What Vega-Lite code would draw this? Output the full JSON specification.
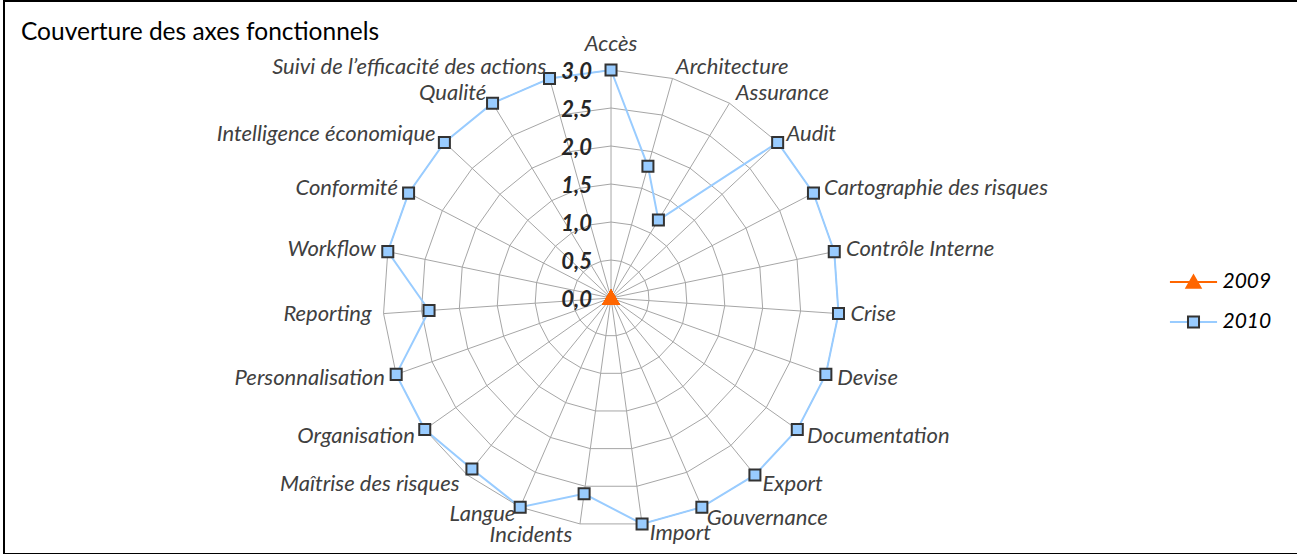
{
  "$schema": "https://vega.github.io/schema/vega-lite/v6.json",
  "width": 1300,
  "height": 553,
  "autosize": {"type": "none"},
  "padding": {"left": 4, "top": 1, "right": 0, "bottom": 0},
  "background": "white",
  "config": {"view": {"stroke": "#000000", "strokeWidth": 2}, "font": "Lato"},
  "title": {"text": "Couverture des axes fonctionnels", "anchor": "start", "frame": "group", "orient": "top", "offset": -36, "dx": 17, "dy": 27, "baseline": "alphabetic", "font": "Lato", "fontSize": 24.5, "fontWeight": "normal", "color": "#000000"},
  "datasets": {
    "axes": [
      {"axe": "Accès", "i": 0, "2009": 0, "2010": 3.0},
      {"axe": "Architecture", "i": 1, "2009": 0, "2010": 1.8},
      {"axe": "Assurance", "i": 2, "2009": 0, "2010": 1.2},
      {"axe": "Audit", "i": 3, "2009": 0, "2010": 3.0},
      {"axe": "Cartographie des risques", "i": 4, "2009": 0, "2010": 3.0},
      {"axe": "Contrôle Interne", "i": 5, "2009": 0, "2010": 3.0},
      {"axe": "Crise", "i": 6, "2009": 0, "2010": 3.0},
      {"axe": "Devise", "i": 7, "2009": 0, "2010": 3.0},
      {"axe": "Documentation", "i": 8, "2009": 0, "2010": 3.0},
      {"axe": "Export", "i": 9, "2009": 0, "2010": 3.0},
      {"axe": "Gouvernance", "i": 10, "2009": 0, "2010": 3.0},
      {"axe": "Import", "i": 11, "2009": 0, "2010": 3.0},
      {"axe": "Incidents", "i": 12, "2009": 0, "2010": 2.6},
      {"axe": "Langue", "i": 13, "2009": 0, "2010": 3.0},
      {"axe": "Maîtrise des risques", "i": 14, "2009": 0, "2010": 2.9},
      {"axe": "Organisation", "i": 15, "2009": 0, "2010": 3.0},
      {"axe": "Personnalisation", "i": 16, "2009": 0, "2010": 3.0},
      {"axe": "Reporting", "i": 17, "2009": 0, "2010": 2.4},
      {"axe": "Workflow", "i": 18, "2009": 0, "2010": 3.0},
      {"axe": "Conformité", "i": 19, "2009": 0, "2010": 3.0},
      {"axe": "Intelligence économique", "i": 20, "2009": 0, "2010": 3.0},
      {"axe": "Qualité", "i": 21, "2009": 0, "2010": 3.0},
      {"axe": "Suivi de l’efficacité des actions", "i": 22, "2009": 0, "2010": 3.0}
    ],
    "niveaux": [
      {"n": 0, "t": "0,0"},
      {"n": 0.5, "t": "0,5"},
      {"n": 1, "t": "1,0"},
      {"n": 1.5, "t": "1,5"},
      {"n": 2, "t": "2,0"},
      {"n": 2.5, "t": "2,5"},
      {"n": 3, "t": "3,0"}
    ]
  },
  "layer": [
    {
      "data": {"name": "axes"},
      "transform": [
        {"calculate": "[0.5, 1, 1.5, 2, 2.5, 3]", "as": "niv"},
        {"flatten": ["niv"]},
        {"calculate": "datum.i * 2 * PI / 23", "as": "a"},
        {"calculate": "datum.niv * sin(datum.a)", "as": "gx"},
        {"calculate": "datum.niv * cos(datum.a)", "as": "gy"}
      ],
      "mark": {"type": "line", "interpolate": "linear-closed", "stroke": "#a6a6a6", "strokeWidth": 1},
      "encoding": {
        "x": {"field": "gx", "type": "quantitative", "scale": {"domain": [-7.987, 9.118], "nice": false, "zero": false}, "axis": null},
        "y": {"field": "gy", "type": "quantitative", "scale": {"domain": [-3.368, 3.908], "nice": false, "zero": false}, "axis": null},
        "detail": {"field": "niv", "type": "nominal"},
        "order": {"field": "i", "type": "quantitative"}
      }
    },
    {
      "data": {"name": "axes"},
      "transform": [
        {"calculate": "[0, 3]", "as": "r"},
        {"flatten": ["r"]},
        {"calculate": "datum.i * 2 * PI / 23", "as": "a"},
        {"calculate": "datum.r * sin(datum.a)", "as": "ex"},
        {"calculate": "datum.r * cos(datum.a)", "as": "ey"}
      ],
      "mark": {"type": "line", "stroke": "#a6a6a6", "strokeWidth": 1},
      "encoding": {
        "x": {"field": "ex", "type": "quantitative", "scale": {"domain": [-7.987, 9.118], "nice": false, "zero": false}, "axis": null},
        "y": {"field": "ey", "type": "quantitative", "scale": {"domain": [-3.368, 3.908], "nice": false, "zero": false}, "axis": null},
        "detail": {"field": "i", "type": "nominal"},
        "order": {"field": "r", "type": "quantitative"}
      }
    },
    {
      "data": {"name": "axes"},
      "transform": [
        {"fold": ["2009", "2010"], "as": ["serie", "v"]},
        {"calculate": "datum.i * 2 * PI / 23", "as": "a"},
        {"calculate": "datum.v * sin(datum.a)", "as": "px"},
        {"calculate": "datum.v * cos(datum.a)", "as": "py"}
      ],
      "mark": {"type": "line", "interpolate": "linear-closed", "strokeWidth": 2},
      "encoding": {
        "x": {"field": "px", "type": "quantitative", "scale": {"domain": [-7.987, 9.118], "nice": false, "zero": false}, "axis": null},
        "y": {"field": "py", "type": "quantitative", "scale": {"domain": [-3.368, 3.908], "nice": false, "zero": false}, "axis": null},
        "order": {"field": "i", "type": "quantitative"},
        "stroke": {
          "field": "serie", "type": "nominal",
          "scale": {"domain": ["2009", "2010"], "range": ["#ff6600", "#99ccff"]},
          "legend": {"orient": "none", "legendX": 1169.5, "legendY": 261, "title": null, "padding": 0, "symbolType": "M-1.24,0H1.24", "symbolSize": 1444, "symbolStrokeWidth": 2, "rowPadding": 10, "labelFont": "Lato", "labelFontSize": 21, "labelFontStyle": "italic", "labelColor": "#000000", "labelOffset": 9}
        }
      }
    },
    {
      "data": {"name": "axes"},
      "transform": [
        {"fold": ["2009", "2010"], "as": ["serie", "v"]},
        {"calculate": "datum.i * 2 * PI / 23", "as": "a"},
        {"calculate": "datum.v * sin(datum.a)", "as": "px"},
        {"calculate": "datum.v * cos(datum.a)", "as": "py"}
      ],
      "mark": {"type": "point", "filled": true, "size": 1444, "strokeWidth": 2, "opacity": 1},
      "encoding": {
        "x": {"field": "px", "type": "quantitative", "scale": {"domain": [-7.987, 9.118], "nice": false, "zero": false}, "axis": null},
        "y": {"field": "py", "type": "quantitative", "scale": {"domain": [-3.368, 3.908], "nice": false, "zero": false}, "axis": null},
        "shape": {
          "field": "serie", "type": "nominal",
          "scale": {"domain": ["2009", "2010"], "range": ["M0,-0.34L0.37,0.3L-0.37,0.3Z", "M-0.29,-0.29H0.29V0.29H-0.29Z"]},
          "legend": {"orient": "none", "legendX": 1169.5, "legendY": 261, "title": null, "padding": 0, "symbolSize": 1444, "symbolStrokeWidth": 2, "rowPadding": 10, "labelFont": "Lato", "labelFontSize": 21, "labelFontStyle": "italic", "labelOpacity": 0, "labelOffset": 9}
        },
        "fill": {
          "field": "serie", "type": "nominal",
          "scale": {"domain": ["2009", "2010"], "range": ["#ff6600", "#99ccff"]},
          "legend": {"orient": "none", "legendX": 1169.5, "legendY": 261, "title": null, "padding": 0, "symbolSize": 1444, "symbolStrokeWidth": 2, "rowPadding": 10, "labelFont": "Lato", "labelFontSize": 21, "labelFontStyle": "italic", "labelOpacity": 0, "labelOffset": 9}
        },
        "stroke": {
          "field": "serie", "type": "nominal",
          "scale": {"domain": ["2009", "2010"], "range": ["#ff6600", "#333333"]},
          "legend": {"orient": "none", "legendX": 1169.5, "legendY": 261, "title": null, "padding": 0, "symbolSize": 1444, "symbolStrokeWidth": 2, "rowPadding": 10, "labelFont": "Lato", "labelFontSize": 21, "labelFontStyle": "italic", "labelOpacity": 0, "labelOffset": 9}
        }
      }
    },
    {
      "data": {"name": "niveaux"},
      "transform": [
        {"calculate": "0", "as": "zx"}
      ],
      "mark": {"type": "text", "align": "right", "baseline": "middle", "dx": -19, "dy": 2, "font": "Lato", "fontSize": 22, "fontStyle": "italic", "fontWeight": "bold", "color": "#262626"},
      "encoding": {
        "x": {"field": "zx", "type": "quantitative", "scale": {"domain": [-7.987, 9.118], "nice": false, "zero": false}, "axis": null},
        "y": {"field": "n", "type": "quantitative", "scale": {"domain": [-3.368, 3.908], "nice": false, "zero": false}, "axis": null},
        "text": {"field": "t"}
      }
    },
    {
      "data": {"name": "axes"},
      "transform": [
        {"filter": "datum.i == 0"},
        {"calculate": "datum.i * 2 * PI / 23", "as": "a"},
        {"calculate": "3.158 * sin(datum.a)", "as": "tx"},
        {"calculate": "3.158 * cos(datum.a)", "as": "ty"}
      ],
      "mark": {"type": "text", "align": "center", "baseline": "bottom", "dy": -2, "font": "Lato", "fontSize": 22, "fontStyle": "italic", "color": "#404040"},
      "encoding": {
        "x": {"field": "tx", "type": "quantitative", "scale": {"domain": [-7.987, 9.118], "nice": false, "zero": false}, "axis": null},
        "y": {"field": "ty", "type": "quantitative", "scale": {"domain": [-3.368, 3.908], "nice": false, "zero": false}, "axis": null},
        "text": {"field": "axe"}
      }
    },
    {
      "data": {"name": "axes"},
      "transform": [
        {"filter": "datum.i > 0 && datum.i <= 10"},
        {"calculate": "datum.i * 2 * PI / 23", "as": "a"},
        {"calculate": "3.158 * sin(datum.a)", "as": "tx"},
        {"calculate": "3.158 * cos(datum.a)", "as": "ty"}
      ],
      "mark": {"type": "text", "align": "left", "baseline": "middle", "font": "Lato", "fontSize": 22, "fontStyle": "italic", "color": "#404040"},
      "encoding": {
        "x": {"field": "tx", "type": "quantitative", "scale": {"domain": [-7.987, 9.118], "nice": false, "zero": false}, "axis": null},
        "y": {"field": "ty", "type": "quantitative", "scale": {"domain": [-3.368, 3.908], "nice": false, "zero": false}, "axis": null},
        "text": {"field": "axe"}
      }
    },
    {
      "data": {"name": "axes"},
      "transform": [
        {"filter": "datum.i == 11"},
        {"calculate": "datum.i * 2 * PI / 23", "as": "a"},
        {"calculate": "3.158 * sin(datum.a)", "as": "tx"},
        {"calculate": "3.158 * cos(datum.a)", "as": "ty"}
      ],
      "mark": {"type": "text", "align": "left", "baseline": "middle", "dx": 6, "dy": -3, "font": "Lato", "fontSize": 22, "fontStyle": "italic", "color": "#404040"},
      "encoding": {
        "x": {"field": "tx", "type": "quantitative", "scale": {"domain": [-7.987, 9.118], "nice": false, "zero": false}, "axis": null},
        "y": {"field": "ty", "type": "quantitative", "scale": {"domain": [-3.368, 3.908], "nice": false, "zero": false}, "axis": null},
        "text": {"field": "axe"}
      }
    },
    {
      "data": {"name": "axes"},
      "transform": [
        {"filter": "datum.i == 12"},
        {"calculate": "datum.i * 2 * PI / 23", "as": "a"},
        {"calculate": "3.158 * sin(datum.a)", "as": "tx"},
        {"calculate": "3.158 * cos(datum.a)", "as": "ty"}
      ],
      "mark": {"type": "text", "align": "right", "baseline": "middle", "dx": -6, "dy": -1, "font": "Lato", "fontSize": 22, "fontStyle": "italic", "color": "#404040"},
      "encoding": {
        "x": {"field": "tx", "type": "quantitative", "scale": {"domain": [-7.987, 9.118], "nice": false, "zero": false}, "axis": null},
        "y": {"field": "ty", "type": "quantitative", "scale": {"domain": [-3.368, 3.908], "nice": false, "zero": false}, "axis": null},
        "text": {"field": "axe"}
      }
    },
    {
      "data": {"name": "axes"},
      "transform": [
        {"filter": "datum.i == 13"},
        {"calculate": "datum.i * 2 * PI / 23", "as": "a"},
        {"calculate": "3.158 * sin(datum.a)", "as": "tx"},
        {"calculate": "3.158 * cos(datum.a)", "as": "ty"}
      ],
      "mark": {"type": "text", "align": "right", "baseline": "middle", "dy": -4, "font": "Lato", "fontSize": 22, "fontStyle": "italic", "color": "#404040"},
      "encoding": {
        "x": {"field": "tx", "type": "quantitative", "scale": {"domain": [-7.987, 9.118], "nice": false, "zero": false}, "axis": null},
        "y": {"field": "ty", "type": "quantitative", "scale": {"domain": [-3.368, 3.908], "nice": false, "zero": false}, "axis": null},
        "text": {"field": "axe"}
      }
    },
    {
      "data": {"name": "axes"},
      "transform": [
        {"filter": "datum.i >= 14"},
        {"calculate": "datum.i * 2 * PI / 23", "as": "a"},
        {"calculate": "3.158 * sin(datum.a)", "as": "tx"},
        {"calculate": "3.158 * cos(datum.a)", "as": "ty"}
      ],
      "mark": {"type": "text", "align": "right", "baseline": "middle", "font": "Lato", "fontSize": 22, "fontStyle": "italic", "color": "#404040"},
      "encoding": {
        "x": {"field": "tx", "type": "quantitative", "scale": {"domain": [-7.987, 9.118], "nice": false, "zero": false}, "axis": null},
        "y": {"field": "ty", "type": "quantitative", "scale": {"domain": [-3.368, 3.908], "nice": false, "zero": false}, "axis": null},
        "text": {"field": "axe"}
      }
    }
  ],
  "resolve": {
    "scale": {"stroke": "independent", "fill": "independent", "shape": "independent"}
  }
}
